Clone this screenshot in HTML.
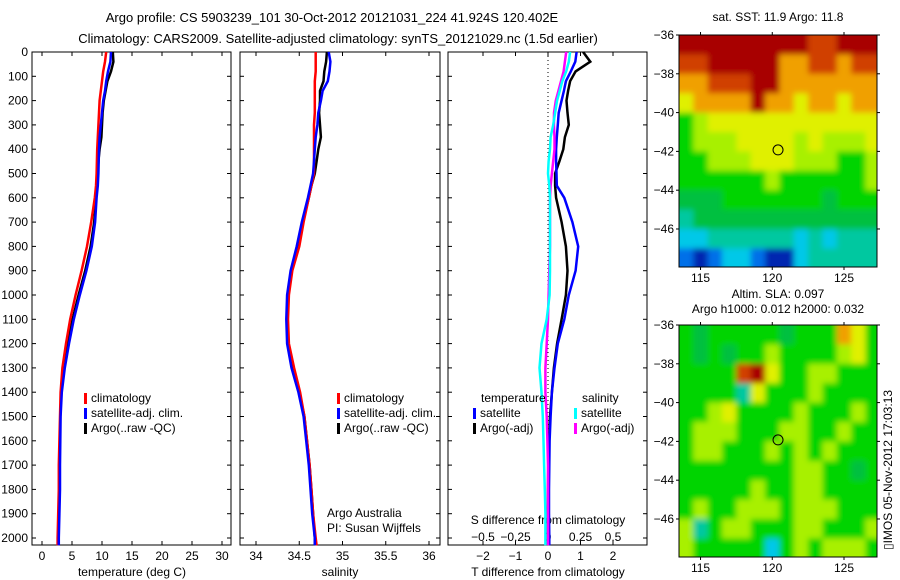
<!DOCTYPE html>
<html><head><meta charset="utf-8"><style>
html,body{margin:0;padding:0;background:#fff;}
svg{display:block;font-family:"Liberation Sans",sans-serif;}
text{font-size:12px;fill:#000;}
</style></head><body>
<svg id="fig" width="900" height="580" xmlns="http://www.w3.org/2000/svg">
<defs>
<filter id="blur" x="-5%" y="-5%" width="110%" height="110%"><feGaussianBlur stdDeviation="3"/></filter>
<clipPath id="clip1"><rect x="679" y="35" width="198" height="232"/></clipPath>
<clipPath id="clip2"><rect x="679" y="325" width="198" height="232"/></clipPath>
</defs>
<text x="332" y="22" text-anchor="middle" style="font-size:13px">Argo profile: CS 5903239_101 30-Oct-2012 20121031_224 41.924S 120.402E</text>
<text x="338" y="43" text-anchor="middle" style="font-size:13px">Climatology: CARS2009. Satellite-adjusted climatology: synTS_20121029.nc (1.5d earlier)</text>
<g id="g"></g>
</svg>
<script>
// ---- data ----
const depths = [0,40,80,120,160,200,250,300,350,400,450,500,550,600,700,800,900,1000,1100,1200,1300,1400,1500,1600,1700,1800,1900,2000,2030];
const tempClim = [10.7,10.5,10.2,10.0,9.8,9.6,9.5,9.4,9.3,9.2,9.15,9.1,9.0,8.8,8.2,7.5,6.6,5.6,4.7,4.0,3.4,3.1,3.0,2.9,2.8,2.8,2.7,2.6,2.6];
const tempSat  = [11.5,11.4,11.0,10.7,10.5,10.2,10.0,9.8,9.6,9.5,9.45,9.4,9.3,9.1,8.85,8.3,7.4,6.3,5.3,4.5,3.8,3.3,3.1,3.05,3.0,3.0,2.9,2.8,2.8];
const tempArgo = [11.8,11.9,11.5,10.9,10.6,10.3,10.1,10.0,9.9,9.6,9.4,9.3,9.2,9.0,8.7,8.1,7.2,6.1,5.1,4.3,3.6,3.2,3.05,3.0,2.9,2.85,2.8,2.75,2.75];
const salClim = [34.69,34.69,34.69,34.68,34.68,34.68,34.68,34.67,34.67,34.67,34.67,34.67,34.64,34.61,34.55,34.50,34.42,34.38,34.37,34.38,34.44,34.51,34.56,34.59,34.62,34.64,34.66,34.69,34.70];
const salSat  = [34.84,34.86,34.85,34.83,34.77,34.75,34.72,34.71,34.69,34.68,34.67,34.66,34.63,34.60,34.53,34.47,34.40,34.36,34.35,34.36,34.41,34.49,34.55,34.58,34.61,34.63,34.65,34.68,34.68];
const salArgo = [34.82,34.81,34.79,34.78,34.74,34.74,34.73,34.74,34.75,34.72,34.70,34.68,34.64,34.61,34.54,34.48,34.41,34.37,34.36,34.37,34.43,34.50,34.56,34.59,34.62,34.64,34.66,34.68,34.68];
const dTsat  = [0.88,0.84,0.70,0.55,0.49,0.42,0.33,0.30,0.27,0.25,0.25,0.26,0.27,0.50,0.75,0.93,0.85,0.64,0.50,0.30,0.20,0.12,0.08,0.05,0.04,0.03,0.03,0.04,0.04];
const dTargo = [1.08,1.30,0.85,0.68,0.62,0.57,0.60,0.64,0.52,0.47,0.35,0.22,0.22,0.25,0.42,0.55,0.60,0.55,0.42,0.28,0.18,0.12,0.06,0.03,0.01,0.0,0.0,0.0,0.0];
const dSsat  = [0.17,0.16,0.14,0.11,0.09,0.07,0.055,0.04,0.02,0.015,0.005,0.0,0.01,0.015,0.015,0.015,0.015,0.012,-0.01,-0.05,-0.065,-0.05,-0.04,-0.035,-0.03,-0.025,-0.02,-0.02,-0.02];
const dSargo = [0.14,0.13,0.12,0.10,0.08,0.06,0.046,0.045,0.05,0.05,0.04,0.03,0.02,0.015,0.015,0.015,0.01,0.005,0.0,-0.01,-0.02,-0.02,-0.01,-0.005,0.0,0.0,0.0,0.0,0.0];
const depthTicks = [0,100,200,300,400,500,600,700,800,900,1000,1100,1200,1300,1400,1500,1600,1700,1800,1900,2000];
const tempTicks = [0,5,10,15,20,25,30];
const salTicks = [34,34.5,35,35.5,36];
const dTTicks = [-2,-1,0,1,2];
const dSTicks = [-0.5,-0.25,0,0.25,0.5];
const lonTicks = [115,120,125];
const latTicks = [-36,-38,-40,-42,-44,-46];
// map grids (rows lat -36..-48, cols lon 113.5..127.5), colour codes
const sstGrid = ["RRRRRRRRRrrRRR","rrRRRRRoorrorr","oorrrRRooooooo","yooooRooyooyoo","glyyyyyyyyyyyy","glllyyyylyllly","gglllyyylllggl","gggggglggggggl","GGGgggggggGggg","tGGGGGGGGGGGGG","ccttttttctcttt","bBbccbBBcttttt"];
const slaGrid = ["gGgggggGgggoyg","gGgGgglgggglyg","ggggrRyggllggg","ggggtyggglgggg","gglygggglggglg","glllgggllgglgg","gllggglglglggg","ggggggggllggGg","ggggglggllgggg","glgglllglllggg","ltgllgggllgggl","lgggggcglglllg"];
const argoLon = 120.402, argoLat = -41.924;
</script>
<script>
const NS="http://www.w3.org/2000/svg";
const G=document.getElementById('g');
function mk(tag,attrs,parent){const e=document.createElementNS(NS,tag);for(const k in attrs)e.setAttribute(k,attrs[k]);(parent||G).appendChild(e);return e;}
const PT=52,PB=545;
const yD=d=>PT+d*0.243;
const panels=[
 {x0:32,x1:231,sx:v=>42+v*6},
 {x0:240,x1:440,sx:v=>256+(v-34)*86.5},
 {x0:448,x1:647,sx:v=>548+v*32.5}
];
const sS=v=>548+v*130;
panels.forEach((p,i)=>{
 const r=mk('rect',{x:p.x0,y:PT,width:p.x1-p.x0,height:PB-PT,fill:'none',stroke:'#000','stroke-width':1});
 
 
 depthTicks.forEach(d=>{
  mk('line',{x1:p.x0,x2:p.x0+4,y1:yD(d),y2:yD(d),stroke:'#000'});
  mk('line',{x1:p.x1-4,x2:p.x1,y1:yD(d),y2:yD(d),stroke:'#000'});
 });
});
depthTicks.forEach(d=>{
 const t=mk('text',{x:28,y:yD(d)+4,'text-anchor':'end'});t.textContent=d;
 
 
});
function xticks(vals,f,y,lab,top,bottom){vals.forEach(v=>{const x=f(v);
 if(bottom){mk('line',{x1:x,x2:x,y1:PB-4,y2:PB,stroke:'#000'});}
 if(top){mk('line',{x1:x,x2:x,y1:PT,y2:PT+4,stroke:'#000'});}
 const t=mk('text',{x:x,y:y,'text-anchor':'middle'});t.textContent=(lab?lab(v):v);
 
 
});}
xticks(tempTicks,panels[0].sx,560,null,true,true);
xticks(salTicks,panels[1].sx,560,null,true,true);
xticks(dTTicks,panels[2].sx,560,v=>v<0?'\u2212'+(-v):v,true,true);
xticks(dSTicks,sS,541,v=>v<0?'\u2212'+(-v):v,false,false);
[[132,'temperature (deg C)','x-axis-title-temperature'],[340,'salinity','x-axis-title-salinity'],[548,'T difference from climatology','x-axis-title-t-diff']].forEach(a=>{
 const t=mk('text',{x:a[0],y:576,'text-anchor':'middle'});t.textContent=a[1];
 
 
});
const st=mk('text',{x:548,y:524,'text-anchor':'middle'});st.textContent='S difference from climatology';


const zl=mk('line',{x1:548,x2:548,y1:PT,y2:PB,stroke:'#000','stroke-dasharray':'1,3'});


function series(vals,f,color,name){
 const pts=vals.map((v,i)=>f(v).toFixed(1)+','+yD(depths[i]).toFixed(1)).join(' ');
 const l=mk('polyline',{points:pts,fill:'none',stroke:color,'stroke-width':2.5});
 
 
}
series(tempArgo,panels[0].sx,'#000','temp-argo-line');
series(tempClim,panels[0].sx,'#f00','temp-climatology-line');
series(tempSat,panels[0].sx,'#00f','temp-satellite-line');
series(salArgo,panels[1].sx,'#000','sal-argo-line');
series(salClim,panels[1].sx,'#f00','sal-climatology-line');
series(salSat,panels[1].sx,'#00f','sal-satellite-line');
series(dTargo,panels[2].sx,'#000','tdiff-argo-line');
series(dTsat,panels[2].sx,'#00f','tdiff-satellite-line');
series(dSargo,sS,'#f0f','sdiff-argo-line');
series(dSsat,sS,'#0ff','sdiff-satellite-line');
function legend(x,y,color,label,name){
 const r=mk('rect',{x:x,y:y-9,width:3,height:11,fill:color});
 
 
 const t=mk('text',{x:x+7,y:y});t.textContent=label;
 
 
}
legend(84,402,'#f00','climatology','legend-climatology');
legend(84,417,'#00f','satellite-adj. clim.','legend-satellite');
legend(84,432,'#000','Argo(..raw -QC)','legend-argo');
legend(337,402,'#f00','climatology','legend2-climatology');
legend(337,417,'#00f','satellite-adj. clim.','legend2-satellite');
legend(337,432,'#000','Argo(..raw -QC)','legend2-argo');
let tt=mk('text',{x:481,y:402});tt.textContent='temperature';


tt=mk('text',{x:582,y:402});tt.textContent='salinity';


legend(473,417,'#00f','satellite','legend-t-satellite');
legend(473,432,'#000','Argo(-adj)','legend-t-argo');
legend(574,417,'#0ff','satellite','legend-s-satellite');
legend(574,432,'#f0f','Argo(-adj)','legend-s-argo');
tt=mk('text',{x:327,y:517});tt.textContent='Argo Australia';


tt=mk('text',{x:327,y:532});tt.textContent='PI: Susan Wijffels';


const COL={R:'#a80000',r:'#d04000',o:'#f0a000',y:'#e0f000',l:'#a8f000',g:'#00d400',G:'#00c040',t:'#00c8a0',c:'#00c8e8',b:'#0070e8',B:'#0028b0'};
function map(y0,grid,name,titles,clipId){
 const x0=679,x1=877,y1=y0+232;
 const lx=v=>x0+(v-113.5)*(x1-x0)/13.8;
 const ly=v=>y0+(-36-v)*(y1-y0)/11.96;
 const nc=grid[0].length;
 const outer=mk('g',{'clip-path':'url(#'+clipId+')'});
 
 
 const inner=mk('g',{filter:'url(#blur)'},outer);
 grid.forEach((row,i)=>{for(let j=0;j<nc;j++){
  const a=lx(113.5+j),b=lx(113.5+j+1),c=ly(-36-i),d=ly(-36-i-1);
  const ex=(j==nc-1)?8:0.6, ey=(i==grid.length-1)?8:0.6, sx=(j==0)?8:0, sy=(i==0)?8:0;
  const r=mk('rect',{x:(a-sx).toFixed(1),y:(c-sy).toFixed(1),width:(b-a+ex+sx).toFixed(1),height:(d-c+ey+sy).toFixed(1),fill:COL[row[j]]},inner);
  
  
 }});
 const f=mk('rect',{x:x0,y:y0,width:x1-x0,height:y1-y0,fill:'none',stroke:'#000'});
 
 
 lonTicks.forEach(v=>{const x=lx(v);mk('line',{x1:x,x2:x,y1:y0-3,y2:y0,stroke:'#000'});mk('line',{x1:x,x2:x,y1:y1,y2:y1+3,stroke:'#000'});
  const t=mk('text',{x:x,y:y1+15,'text-anchor':'middle'});t.textContent=v;
  
  });
 latTicks.forEach(v=>{const y=ly(v);mk('line',{x1:x0-3,x2:x0,y1:y,y2:y,stroke:'#000'});mk('line',{x1:x1,x2:x1+3,y1:y,y2:y,stroke:'#000'});
  const t=mk('text',{x:x0-5,y:y+4,'text-anchor':'end'});t.textContent='\u2212'+(-v);
  
  });
 const c=mk('circle',{cx:lx(argoLon),cy:ly(argoLat),r:5,fill:'none',stroke:'#000'});
 
 
 titles.forEach((s,i)=>{const t=mk('text',{x:778,y:y0-14-(titles.length-1-i)*15+(titles.length>1?2:0),'text-anchor':'middle'});t.textContent=s;
  
  });
}
map(35,sstGrid,'sst-map',['sat. SST: 11.9 Argo: 11.8'],'clip1');
map(325,slaGrid,'sla-map',['Altim. SLA: 0.097','Argo h1000: 0.012 h2000: 0.032'],'clip2');
const im=mk('text',{x:0,y:0,transform:'translate(892,550) rotate(-90)'});im.textContent='\u25AFIMOS 05-Nov-2012 17:03:13';


</script>
</body></html>
